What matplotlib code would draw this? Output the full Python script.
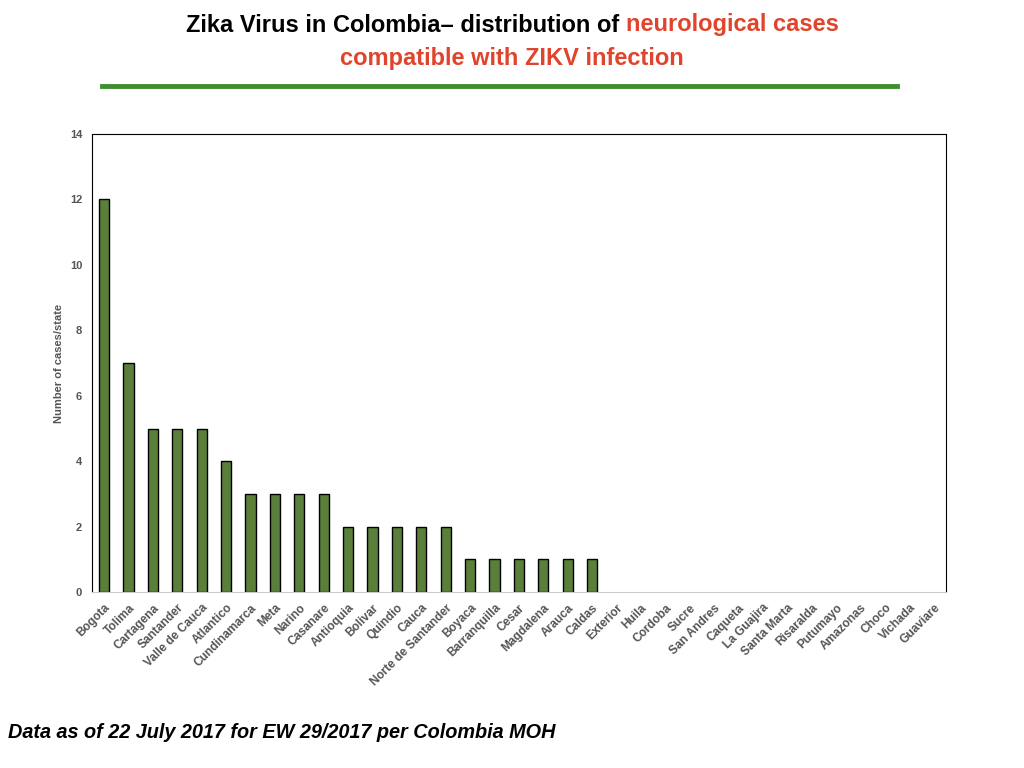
import matplotlib
matplotlib.use('Agg')
import matplotlib.pyplot as plt

states = ['Bogota', 'Tolima', 'Cartagena', 'Santander', 'Valle de Cauca', 'Atlantico',
          'Cundinamarca', 'Meta', 'Narino', 'Casanare', 'Antioquia', 'Bolivar', 'Quindio',
          'Cauca', 'Norte de Santander', 'Boyaca', 'Barranquilla', 'Cesar', 'Magdalena',
          'Arauca', 'Caldas', 'Exterior', 'Huila', 'Cordoba', 'Sucre', 'San Andres',
          'Caqueta', 'La Guajira', 'Santa Marta', 'Risaralda', 'Putumayo', 'Amazonas',
          'Choco', 'Vichada', 'Guaviare']
cases = [12, 7, 5, 5, 5, 4, 3, 3, 3, 3, 2, 2, 2, 2, 2, 1, 1, 1, 1, 1, 1,
         0, 0, 0, 0, 0, 0, 0, 0, 0, 0, 0, 0, 0, 0]
y_ticks = [0, 2, 4, 6, 8, 10, 12, 14]

plt.rcParams['font.family'] = ['Liberation Sans', 'DejaVu Sans']

fig = plt.figure(figsize=(10.24, 7.68), dpi=100)
ax = fig.add_axes([0.0898, 0.229, 0.834, 0.5965])

# no outline on the empty bars
lw = [1 if v else 0 for v in cases]
ax.bar(range(len(states)), cases, width=0.42, color='#5a7f3a', edgecolor='black', linewidth=lw)
ax.set_xlim(-0.5, len(states) - 0.5)
ax.set_ylim(0, 14)
ax.set_yticks(y_ticks)
ax.set_xticks(range(len(states)))
ax.set_xticklabels(states, rotation=45, ha='right', rotation_mode='anchor',
                   fontsize=8.6, fontweight='bold', color='#555555')
for lab in ax.get_yticklabels():
    lab.set_fontsize(8)
    lab.set_fontweight('bold')
    lab.set_color('#555555')
ax.tick_params(axis='both', length=0, pad=7)
ax.set_ylabel('Number of cases/state', fontsize=8, fontweight='bold', color='#555555', labelpad=4)
for s in ['left', 'top', 'right']:
    ax.spines[s].set_color('black')
ax.spines['bottom'].set_color('#cccccc')

# title in two colours
red = '#e0442c'
fam = ['Liberation Sans', 'DejaVu Sans']
fig.canvas.draw()
r = fig.canvas.get_renderer()
p1 = 'Zika Virus in Colombia\u2013 distribution of '
p2 = 'neurological cases'
t1 = fig.text(0, 0, p1, fontsize=17, fontweight='bold', family=fam, color='black')
t2 = fig.text(0, 0, p2, fontsize=17, fontweight='bold', family=fam, color=red)
w1 = t1.get_window_extent(r).width
w2 = t2.get_window_extent(r).width
x0 = (1024 - (w1 + w2)) / 2 / 1024
yl = 1 - 25 / 768
t1.set_position((x0, yl))
t1.set_va('center')
t2.set_position((x0 + w1 / 1024, yl))
t2.set_va('center')
fig.text(0.5, 1 - 58 / 768, 'compatible with ZIKV infection', fontsize=17, fontweight='bold',
         family=fam, color=red, ha='center', va='center')

fig.add_artist(plt.Line2D([102 / 1024, 897 / 1024], [1 - 86 / 768, 1 - 86 / 768],
                          color='#3e8e2e', linewidth=3.5))

fig.text(8 / 1024, 1 - 733 / 768, 'Data as of 22 July 2017 for EW 29/2017 per Colombia MOH',
         fontsize=14.3, fontweight='bold', style='italic', color='black', va='center')

fig.savefig('out.png', dpi=100)
